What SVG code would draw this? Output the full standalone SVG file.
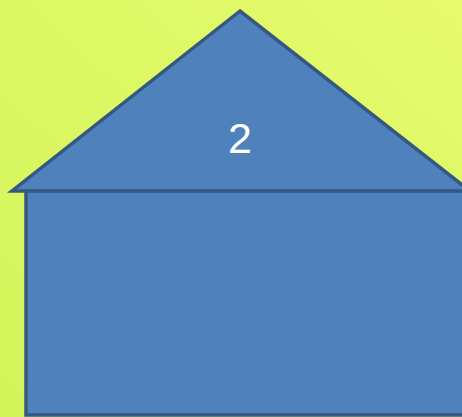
<svg xmlns="http://www.w3.org/2000/svg" width="462" height="417" viewBox="0 0 462 417">
  <defs>
    <linearGradient id="bg" x1="0" y1="1" x2="1" y2="0">
      <stop offset="0" stop-color="#d2f45a"/>
      <stop offset="1" stop-color="#e6fb6e"/>
    </linearGradient>
    <style>
      .shape { fill: #4f81bd; stroke: #34587f; stroke-width: 3.5; stroke-linejoin: miter; }
      .label { font-family: "Liberation Sans", Arial, sans-serif; font-size: 43px; fill: #ffffff; text-anchor: middle; }
    </style>
  </defs>
  <rect x="0" y="0" width="462" height="417" fill="url(#bg)"/>
  <g id="body">
    <rect class="shape" x="26" y="190" width="450" height="225"/>
  </g>
  <g id="roof">
    <polygon class="shape" points="240,11 12,191 470,191"/>
    <text class="label" x="240" y="153">2</text>
  </g>
  <g id="connectors"/>
</svg>
